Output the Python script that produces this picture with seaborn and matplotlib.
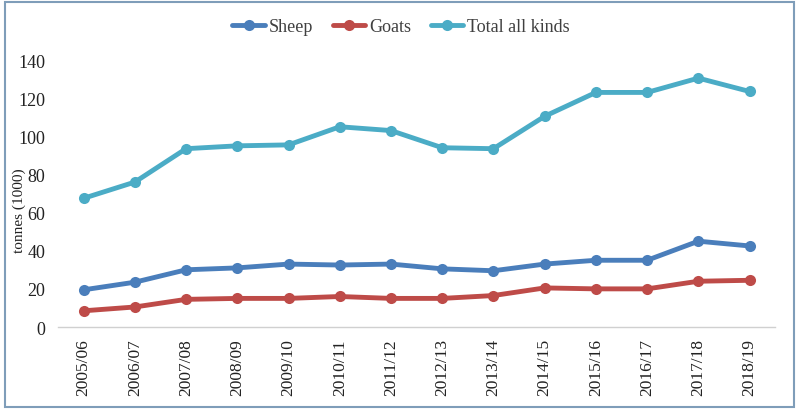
import pandas as pd
import matplotlib
matplotlib.use("Agg")
import matplotlib.pyplot as plt
import seaborn as sns
from matplotlib.patches import Rectangle

# -----------------------------
# data
# -----------------------------
years = ["2005/06", "2006/07", "2007/08", "2008/09", "2009/10", "2010/11", "2011/12",
         "2012/13", "2013/14", "2014/15", "2015/16", "2016/17", "2017/18", "2018/19"]
sheep = [19.5, 23.5, 30, 31, 33, 32.5, 33, 30.5, 29.5, 33, 35, 35, 45, 42.5]
goats = [8.5, 10.5, 14.5, 15, 15, 16, 15, 15, 16.5, 20.5, 20, 20, 24, 24.5]
total = [67.5, 76, 93.5, 95, 95.5, 105, 103, 94, 93.5, 110.5, 123, 123, 130.5, 123.5]

series_names = ["Sheep", "Goats", "Total all kinds"]
colors = ["#4a7ebb", "#be4b48", "#4bacc6"]

df = pd.DataFrame({
    "year": years * 3,
    "value": sheep + goats + total,
    "kind": [series_names[0]] * len(years) + [series_names[1]] * len(years) + [series_names[2]] * len(years),
})

sns.set_style("white")
plt.rcParams["font.family"] = "serif"
plt.rcParams["font.serif"] = ["Liberation Serif", "Times New Roman", "DejaVu Serif"]

fig = plt.figure(figsize=(8, 4.14), dpi=100)
ax = fig.add_axes([0.0725, 0.2077, 0.8965, 0.691])

sns.lineplot(data=df, x="year", y="value", hue="kind", palette=colors,
             marker="o", markersize=8, markeredgewidth=0, linewidth=3.5,
             sort=False, ax=ax)

ax.set_ylim(0, 150)
ax.set_yticks(range(0, 141, 20))
ax.set_xlim(-0.5, len(years) - 0.5)
ax.tick_params(axis="y", labelsize=13, length=0, pad=9, colors="#222222")
ax.tick_params(axis="x", labelsize=12.5, length=0, rotation=90, pad=8, colors="#222222")
ax.set_xlabel("")
ax.set_ylabel("tonnes (1000)", fontsize=11, color="#222222")
ax.yaxis.set_label_coords(-0.045, 0.41)

for side in ["top", "right", "left"]:
    ax.spines[side].set_visible(False)
ax.spines["bottom"].set_color("#d0d0d0")
ax.spines["bottom"].set_linewidth(1)

leg = ax.legend(loc="center", bbox_to_anchor=(0.478, 1.05), ncol=3, frameon=False,
                fontsize=13, handlelength=1.8, columnspacing=1.1, handletextpad=0.2,
                borderaxespad=0)
for t in leg.get_texts():
    t.set_color("#404040")

# outer frame around the picture
fig.patches.append(Rectangle((0.006, 0.014), 0.986, 0.978, transform=fig.transFigure,
                             fill=False, edgecolor="#7f9db9", linewidth=1.5))

fig.savefig("out.png", dpi=100)
